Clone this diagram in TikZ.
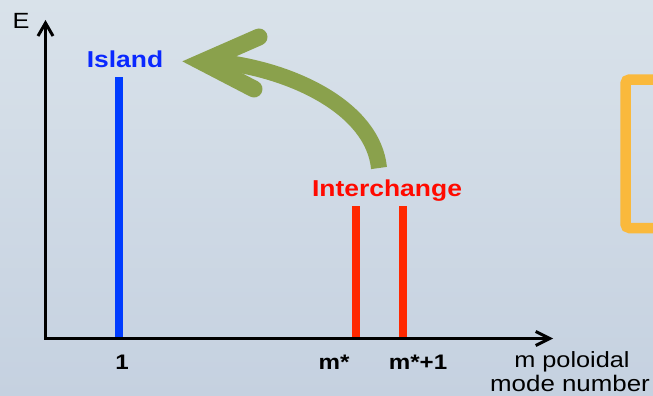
\documentclass[tikz,border=0pt]{standalone}
\usepackage{fontspec}
\usetikzlibrary{arrows.meta}
\newfontfamily\lab[FakeStretch=1.15]{Liberation Sans}
\definecolor{bgtop}{RGB}{217,226,234}
\definecolor{bgbot}{RGB}{197,209,224}
\definecolor{islandblue}{RGB}{10,40,255}
\definecolor{barblue}{RGB}{0,60,255}
\definecolor{barred}{RGB}{255,40,0}
\definecolor{txtred}{RGB}{255,10,0}
\definecolor{olive}{RGB}{138,161,76}
\definecolor{boxorange}{RGB}{250,185,60}
\tikzset{
  boldlab/.style={font=\lab\bfseries\fontsize{23}{27}\selectfont, inner sep=0pt, anchor=base},
  ticklab/.style={font=\lab\bfseries\fontsize{21}{24}\selectfont, inner sep=0pt, anchor=base},
  plainlab/.style={font=\lab\fontsize{22}{26}\selectfont, inner sep=0pt, anchor=base},
  axisline/.style={line width=3pt, line join=miter,
    {Straight Barb[length=13pt,width=15pt]}-{Straight Barb[length=14pt,width=14pt]}},
  spectbar/.style={line width=8pt},
}
\begin{document}
\begin{tikzpicture}[x=1pt,y=-1pt]
\useasboundingbox (0,0) rectangle (653,396);
\shade[top color=bgtop, bottom color=bgbot] (0,0) rectangle (653,396);

% coordinates
\coordinate (ytip) at (45.5,20);
\coordinate (orig) at (45.5,338.5);
\coordinate (xtip) at (553,338.5);

% bars
\coordinate (b1top) at (119,77);   \coordinate (b1bot) at (119,338);
\coordinate (b2top) at (356,206);  \coordinate (b2bot) at (356,338);
\coordinate (b3top) at (403,206);  \coordinate (b3bot) at (403,338);
\draw[spectbar, barblue] (b1bot) -- (b1top);
\draw[spectbar, barred] (b2bot) -- (b2top);
\draw[spectbar, barred] (b3bot) -- (b3top);

% axes
\draw[axisline] (ytip) -- (orig) -- (xtip);

% labels
\node[plainlab] (lblE) at (21,29) {E};
\node[boldlab, text=islandblue] (island) at (125,67) {Island};
\node[boldlab, text=txtred] (inter) at (387,196) {Interchange};
\node[ticklab] (t1) at (122,369.5) {1};
\node[ticklab] (tm) at (334,369.5) {m*};
\node[ticklab] (tm1) at (418,369.5) {m*+1};
\node[plainlab] (xl1) at (572,367) {m poloidal};
\node[plainlab, font=\lab\fontsize{22.5}{26}\selectfont] (xl2) at (570,391) {mode number};

% green curved arrow
\coordinate (shaftA) at (379,168);
\coordinate (shaftB) at (220,62);
\coordinate (barbU) at (259,37);
\coordinate (headJ) at (202,62);
\coordinate (barbL) at (254,89);
\draw[olive, line width=16pt] (shaftA) .. controls (373,108) and (292,70) .. (shaftB);
\draw[olive, line width=17pt, line cap=round, line join=miter, miter limit=10]
  (barbU) -- (headJ) -- (barbL);

% orange box (cut at the right edge)
\draw[boxorange, line width=10.5pt, rounded corners=4pt] (700,79.5) -- (625.5,79.5) -- (625.5,228) -- (700,228);
\end{tikzpicture}
\end{document}
